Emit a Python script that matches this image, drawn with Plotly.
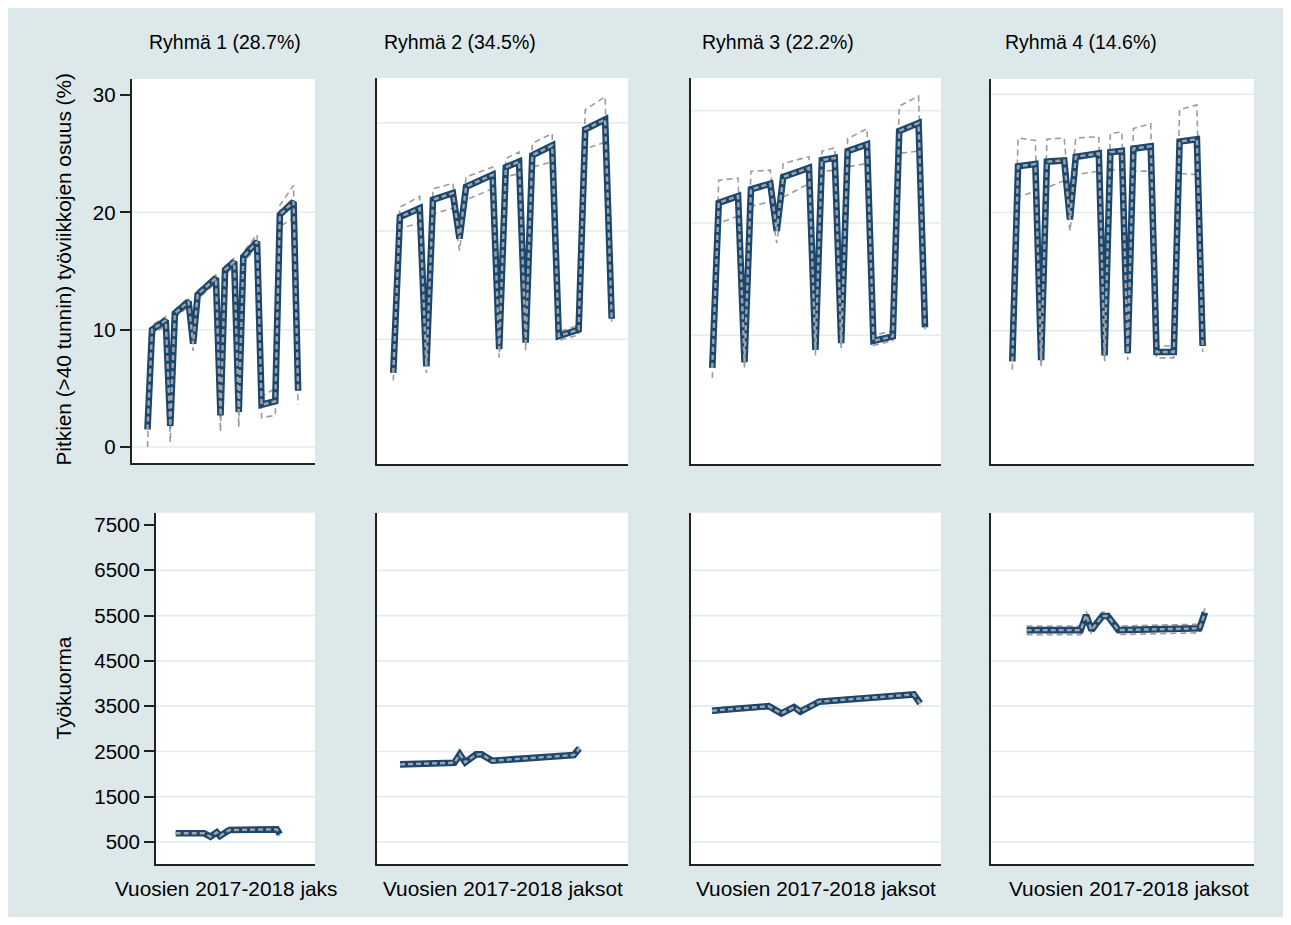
import plotly.graph_objects as go

# The page body adds an 8 px margin, so the figure itself is 1275 x 909.
W, H = 1275, 909
OFF = 8

# ---------------- data ----------------
GROUP_TITLES = ["Ryhmä 1 (28.7%)", "Ryhmä 2 (34.5%)", "Ryhmä 3 (22.2%)", "Ryhmä 4 (14.6%)"]
X_TITLES = ["Vuosien 2017-2018 jaks", "Vuosien 2017-2018 jaksot",
            "Vuosien 2017-2018 jaksot", "Vuosien 2017-2018 jaksot"]
Y_TITLE_TOP = "Pitkien (>40 tunnin) työviikkojen osuus (%)"
Y_TITLE_BOTTOM = "Työkuorma"

# top row: share of long (>40 h) work weeks, period index of the line vertices
PERIODS_TOP = [0, 1, 4, 5, 6, 9, 10, 11, 15, 16, 17, 19, 20, 21, 24, 25, 28, 29, 32, 33]

G1_EST = [1.5, 10.0, 10.8, 1.8, 11.4, 12.4, 8.8, 13.0, 14.4, 2.7, 15.1, 15.8, 3.0, 16.2, 17.5, 3.6, 3.9, 19.8, 20.9, 4.8]
G1_UPPER = [2.9, 10.4, 11.1, 3.0, 11.7, 12.7, 9.2, 13.3, 14.7, 3.6, 15.4, 16.1, 3.9, 16.6, 18.1, 4.3, 5.0, 20.6, 22.3, 5.8]
G1_LOWER = [0.0, 9.5, 10.4, 0.4, 11.0, 12.0, 8.2, 12.6, 14.0, 1.3, 14.7, 15.4, 1.7, 15.8, 17.0, 2.5, 2.7, 18.8, 19.5, 3.6]

G2_EST = [6.9, 21.3, 22.1, 7.5, 22.9, 23.5, 19.3, 24.1, 25.2, 9.1, 25.9, 26.4, 9.7, 27.0, 27.9, 10.3, 10.9, 29.4, 30.3, 11.9]
G2_UPPER = [7.5, 22.2, 23.2, 8.0, 23.9, 24.4, 19.8, 25.0, 25.9, 9.5, 26.7, 27.3, 10.0, 28.1, 29.0, 10.7, 11.3, 31.2, 32.4, 12.5]
G2_LOWER = [6.2, 20.3, 20.7, 6.9, 21.6, 22.1, 18.2, 22.9, 23.9, 8.3, 25.0, 25.3, 9.0, 25.9, 26.4, 9.9, 10.4, 27.6, 28.2, 11.4]

G3_EST = [7.1, 21.8, 22.4, 7.6, 23.0, 23.5, 19.3, 24.1, 24.9, 8.7, 25.6, 25.8, 9.3, 26.4, 27.0, 9.5, 9.9, 28.2, 28.9, 10.7]
G3_UPPER = [7.6, 23.8, 24.0, 8.2, 24.6, 24.7, 20.0, 25.3, 25.9, 9.2, 26.4, 26.7, 9.8, 27.5, 28.4, 10.0, 10.4, 30.4, 31.3, 11.2]
G3_LOWER = [6.2, 20.0, 20.6, 7.0, 21.5, 21.9, 18.2, 22.3, 23.5, 8.2, 24.6, 24.7, 8.8, 25.0, 25.3, 9.1, 9.5, 26.2, 26.4, 10.3]

G4_EST = [7.4, 23.9, 24.1, 7.5, 24.3, 24.4, 19.4, 24.7, 25.0, 7.9, 25.1, 25.2, 8.1, 25.4, 25.6, 8.2, 8.2, 26.0, 26.2, 8.7]
G4_UPPER = [7.9, 26.3, 26.1, 8.1, 26.2, 26.3, 20.5, 26.3, 26.4, 8.5, 26.7, 26.8, 8.6, 27.1, 27.5, 8.7, 8.7, 28.7, 29.1, 9.2]
G4_LOWER = [6.7, 21.3, 21.8, 6.9, 22.1, 22.7, 18.4, 23.2, 23.5, 7.3, 23.6, 23.6, 7.5, 23.5, 23.5, 7.7, 7.7, 23.3, 23.2, 8.2]

# bottom row: workload, period index of the line vertices
W1_PERIODS = [0, 9, 11, 13, 14, 17, 32, 33]
W1_EST = [692, 692, 617, 714, 632, 765, 780, 670]
W1_UPPER = [722, 722, 647, 744, 662, 795, 810, 700]
W1_LOWER = [662, 662, 587, 684, 602, 735, 750, 640]

W2_PERIODS = [0, 10, 11, 12, 14, 15, 17, 32, 33]
W2_EST = [2215, 2250, 2436, 2259, 2436, 2436, 2295, 2420, 2568]
W2_UPPER = [2255, 2290, 2476, 2299, 2476, 2476, 2335, 2460, 2608]
W2_LOWER = [2175, 2210, 2396, 2219, 2396, 2396, 2255, 2380, 2528]

W3_PERIODS = [0, 9, 11, 13, 14, 17, 32, 33]
W3_EST = [3400, 3500, 3340, 3480, 3380, 3600, 3760, 3560]
W3_UPPER = [3450, 3550, 3390, 3530, 3430, 3650, 3810, 3610]
W3_LOWER = [3350, 3450, 3290, 3430, 3330, 3550, 3710, 3510]

W4_PERIODS = [0, 10, 11, 12, 14, 15, 17, 32, 33]
W4_EST = [5180, 5180, 5511, 5180, 5490, 5490, 5180, 5218, 5570]
W4_UPPER = [5270, 5270, 5600, 5270, 5580, 5580, 5270, 5310, 5660]
W4_LOWER = [5080, 5080, 5420, 5080, 5400, 5400, 5080, 5120, 5480]

TOP_TICKS_LABELLED = [0, 10, 20, 30]
TOP_GRID = [[0, 10, 20], [10, 20, 30], [10, 20, 30], [10, 20, 30]]
BOTTOM_TICKS = [500, 1500, 2500, 3500, 4500, 5500, 6500, 7500]
BOTTOM_GRID = [500, 1500, 2500, 3500, 4500, 5500, 6500]

top_series = [(PERIODS_TOP, G1_EST, G1_UPPER, G1_LOWER),
              (PERIODS_TOP, G2_EST, G2_UPPER, G2_LOWER),
              (PERIODS_TOP, G3_EST, G3_UPPER, G3_LOWER),
              (PERIODS_TOP, G4_EST, G4_UPPER, G4_LOWER)]
bottom_series = [(W1_PERIODS, W1_EST, W1_UPPER, W1_LOWER),
                 (W2_PERIODS, W2_EST, W2_UPPER, W2_LOWER),
                 (W3_PERIODS, W3_EST, W3_UPPER, W3_LOWER),
                 (W4_PERIODS, W4_EST, W4_UPPER, W4_LOWER)]

# ---------------- layout geometry (screen pixels) ----------------
TOP_BOXES = [(131.5, 315, 79, 463), (377, 628, 78, 464), (691, 941, 78, 464), (991, 1254, 79, 464)]
TOP_XR = [[-3.5, 36.7], [-2.46, 35.46], [-3.3, 35.48], [-3.69, 41.9]]
TOP_YR = [[-1.36, 31.36], [-1.51, 34.13], [-1.46, 32.91], [-1.28, 31.29]]
BOT_BOXES = [(155.7, 315, 512.7, 864.3), (377, 628, 512.7, 864.3), (691, 941, 512.7, 864.3), (991, 1254, 512.7, 864.3)]
BOT_XR = [[-6.33, 44.1], [-4.24, 41.97], [-3.33, 36.3], [-6.6, 42.07]]
BOT_YR = [8, 7772]


def PX(sx):
    return (sx - OFF) / W


def PY(sy):
    return 1 - (sy - OFF) / H


BG = "#dde8eb"
GRID = "#e2ebee"
NAVY = "#1a476f"
GRAYD = "#9c9c9c"
FONT = "Liberation Sans, Arial, sans-serif"

fig = go.Figure()
layout = dict(width=W, height=H, autosize=False, margin=dict(l=0, r=0, t=0, b=0),
              paper_bgcolor=BG, plot_bgcolor="white", showlegend=False,
              font=dict(family=FONT, color="black", size=20))


def add_panel(idx, box, xr, yr, series, ticks_labelled, grid_vals, show_labels):
    x0, x1, t, b = box
    xa = "xaxis" if idx == 1 else f"xaxis{idx}"
    ya = "yaxis" if idx == 1 else f"yaxis{idx}"
    xref = "x" if idx == 1 else f"x{idx}"
    yref = "y" if idx == 1 else f"y{idx}"
    layout[xa] = dict(domain=[PX(x0), PX(x1)], range=xr, showgrid=False, zeroline=False,
                      showticklabels=False, ticks="", showline=True, linecolor="#222",
                      linewidth=1.5, anchor=yref, fixedrange=True)
    if show_labels:
        ydict = dict(tickvals=ticks_labelled, ticks="outside", ticklen=10, tickwidth=1.5,
                     tickcolor="#222", showticklabels=True,
                     tickfont=dict(size=20.5, color="black", family=FONT))
    else:
        ydict = dict(tickvals=grid_vals, ticks="", showticklabels=False)
    layout[ya] = dict(domain=[PY(b), PY(t)], range=yr, showgrid=False,
                      zeroline=False, showline=True, linecolor="#222", linewidth=1.5,
                      anchor=xref, fixedrange=True, **ydict)
    for g in grid_vals:
        fig.add_trace(go.Scatter(x=xr, y=[g, g], mode="lines", xaxis=xref, yaxis=yref,
                                 line=dict(color=GRID, width=1.6), hoverinfo="skip"))
    px, est, up, lo = series
    for ci in (up, lo):
        fig.add_trace(go.Scatter(x=px, y=ci, mode="lines", xaxis=xref, yaxis=yref,
                                 line=dict(color=GRAYD, width=1.6, dash="6px,4px")))
    fig.add_trace(go.Scatter(x=px, y=est, mode="lines", xaxis=xref, yaxis=yref,
                             line=dict(color=NAVY, width=6.6)))
    fig.add_trace(go.Scatter(x=px, y=est, mode="lines", xaxis=xref, yaxis=yref,
                             line=dict(color="#a4a4a4", width=2.4, dash="5px,3px")))


for i in range(4):
    add_panel(i + 1, TOP_BOXES[i], TOP_XR[i], TOP_YR[i], top_series[i],
              TOP_TICKS_LABELLED, TOP_GRID[i], i == 0)
for i in range(4):
    add_panel(i + 5, BOT_BOXES[i], BOT_XR[i], BOT_YR, bottom_series[i],
              BOTTOM_TICKS, BOTTOM_GRID, i == 0)

annotations = []
TITLE_X = [225, 460, 778, 1081]
for txt, cx in zip(GROUP_TITLES, TITLE_X):
    annotations.append(dict(text=txt, x=PX(cx), y=PY(42), xref="paper", yref="paper",
                            showarrow=False, xanchor="center", yanchor="middle",
                            font=dict(size=19.5, family=FONT, color="black")))
XT_X = [226, 503, 815.5, 1128.5]
for txt, cx in zip(X_TITLES, XT_X):
    annotations.append(dict(text=txt, x=PX(cx), y=PY(888), xref="paper", yref="paper",
                            showarrow=False, xanchor="center", yanchor="middle",
                            font=dict(size=20.8, family=FONT, color="black")))
annotations.append(dict(text=Y_TITLE_TOP, x=PX(62.5), y=PY(270), xref="paper", yref="paper",
                        showarrow=False, textangle=-90, xanchor="center", yanchor="middle",
                        font=dict(size=20.8, family=FONT, color="black")))
annotations.append(dict(text=Y_TITLE_BOTTOM, x=PX(62.5), y=PY(688), xref="paper", yref="paper",
                        showarrow=False, textangle=-90, xanchor="center", yanchor="middle",
                        font=dict(size=20.8, family=FONT, color="black")))
layout["annotations"] = annotations

fig.update_layout(**layout)
fig.write_html("out.html")
